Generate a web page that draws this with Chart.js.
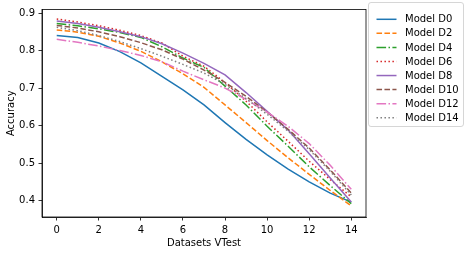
<!DOCTYPE html>
<html>
<head>
<meta charset="utf-8">
<script src="https://cdn.jsdelivr.net/npm/chart.js@4"></script>
<style>
  html, body { margin: 0; padding: 0; background: #fff; }
  #wrap { position: relative; width: 467px; height: 254px; }
</style>
</head>
<body>
<div id="wrap"><canvas id="accChart" width="467" height="254"></canvas></div>
<script>
// values
const xValues = [0, 1, 2, 3, 4, 5, 6, 7, 8, 9, 10, 11, 12, 13, 14];
const xTicks = [0, 2, 4, 6, 8, 10, 12, 14];
const yTicks = [0.4, 0.5, 0.6, 0.7, 0.8, 0.9];

const modelD0  = [0.840, 0.835, 0.820, 0.797, 0.767, 0.731, 0.695, 0.655, 0.608, 0.563, 0.522, 0.484, 0.450, 0.420, 0.396];
const modelD2  = [0.855, 0.849, 0.838, 0.820, 0.798, 0.770, 0.738, 0.702, 0.655, 0.608, 0.560, 0.514, 0.470, 0.427, 0.386];
const modelD4  = [0.872, 0.866, 0.858, 0.848, 0.835, 0.810, 0.780, 0.755, 0.705, 0.655, 0.598, 0.545, 0.490, 0.440, 0.392];
const modelD6  = [0.884, 0.876, 0.866, 0.854, 0.840, 0.820, 0.785, 0.758, 0.715, 0.665, 0.610, 0.558, 0.505, 0.456, 0.410];
const modelD8  = [0.879, 0.872, 0.862, 0.850, 0.837, 0.818, 0.793, 0.766, 0.735, 0.688, 0.638, 0.588, 0.525, 0.460, 0.396];
const modelD10 = [0.867, 0.860, 0.850, 0.837, 0.821, 0.802, 0.777, 0.748, 0.715, 0.678, 0.636, 0.590, 0.540, 0.482, 0.420];
const modelD12 = [0.830, 0.822, 0.812, 0.800, 0.787, 0.770, 0.745, 0.722, 0.700, 0.670, 0.636, 0.598, 0.552, 0.494, 0.430];
const modelD14 = [0.862, 0.853, 0.840, 0.824, 0.805, 0.785, 0.763, 0.740, 0.710, 0.672, 0.630, 0.585, 0.536, 0.478, 0.415];

const seriesNames = ['Model D0', 'Model D2', 'Model D4', 'Model D6', 'Model D8', 'Model D10', 'Model D12', 'Model D14'];
const seriesValues = [modelD0, modelD2, modelD4, modelD6, modelD8, modelD10, modelD12, modelD14];
const seriesColors = ['#1f77b4', '#ff7f0e', '#2ca02c', '#d62728', '#9467bd', '#8c564b', '#e377c2', '#7f7f7f'];

const SOLID = [];
const DASHED = [5.55, 2.4];
const DASHDOT = [9.6, 2.4, 1.5, 2.4];
const DOTTED = [1.5, 2.475];
const seriesDash = [SOLID, DASHED, DASHDOT, DOTTED, SOLID, DASHED, DASHDOT, DOTTED];

const FONT = 'DejaVu Sans';

const datasets = seriesNames.map((name, i) => ({
    label: name,
    data: xValues.map((x, j) => ({x: x, y: seriesValues[i][j]})),
    borderColor: seriesColors[i],
    backgroundColor: seriesColors[i],
    borderWidth: 1.5,
    borderDash: seriesDash[i],
    pointRadius: 0,
    tension: 0,
    fill: false,
    order: seriesNames.length - i
}));

// frame round the plot and the legend box at the right
const framePlugin = {
    id: 'frameAndLegend',
    afterDraw(chart) {
        const ctx = chart.ctx;
        const a = chart.chartArea;
        ctx.save();
        ctx.strokeStyle = '#000';
        ctx.lineWidth = 0.8;
        ctx.setLineDash([]);
        ctx.strokeRect(a.left, a.top, a.right - a.left, a.bottom - a.top);

        // legend
        const lx = 368.5, ly = 2.5, lw = 95, lh = 124, r = 2.5;
        ctx.beginPath();
        ctx.moveTo(lx + r, ly);
        ctx.arcTo(lx + lw, ly, lx + lw, ly + lh, r);
        ctx.arcTo(lx + lw, ly + lh, lx, ly + lh, r);
        ctx.arcTo(lx, ly + lh, lx, ly, r);
        ctx.arcTo(lx, ly, lx + lw, ly, r);
        ctx.closePath();
        ctx.fillStyle = 'rgba(255,255,255,0.8)';
        ctx.fill();
        ctx.strokeStyle = '#cccccc';
        ctx.lineWidth = 0.8;
        ctx.stroke();

        ctx.font = '10px "' + FONT + '"';
        ctx.textBaseline = 'middle';
        ctx.textAlign = 'left';
        seriesNames.forEach((name, i) => {
            const y = 19.3 + i * 14.06;
            ctx.beginPath();
            ctx.setLineDash(seriesDash[i]);
            ctx.strokeStyle = seriesColors[i];
            ctx.lineWidth = 1.5;
            ctx.moveTo(376.5, y);
            ctx.lineTo(396.5, y);
            ctx.stroke();
            ctx.setLineDash([]);
            ctx.fillStyle = '#000';
            ctx.fillText(name, 405, y + 0.5);
        });
        ctx.restore();
    }
};

new Chart(document.getElementById('accChart'), {
    type: 'line',
    data: { datasets: datasets },
    plugins: [framePlugin],
    options: {
        responsive: false,
        animation: false,
        events: [],
        layout: { padding: { left: 0, right: 101, top: 6, bottom: 0 } },
        plugins: {
            legend: { display: false },
            tooltip: { enabled: false }
        },
        scales: {
            x: {
                type: 'linear',
                min: -0.7,
                max: 14.7,
                afterFit(axis) { axis.height = 37; },
                afterBuildTicks(axis) { axis.ticks = xTicks.map(v => ({value: v})); },
                grid: { drawOnChartArea: false, drawTicks: true, tickLength: 3.5, color: '#000', lineWidth: 0.8 },
                border: { display: true, color: '#000', width: 0.8 },
                ticks: {
                    padding: 3.5,
                    color: '#000',
                    maxRotation: 0,
                    font: { family: FONT, size: 10 },
                    callback: v => String(v)
                },
                title: {
                    display: true,
                    text: 'Datasets VTest',
                    color: '#000',
                    font: { family: FONT, size: 10 },
                    padding: { top: 0, bottom: 4.8 }
                }
            },
            y: {
                type: 'linear',
                min: 0.3563,
                max: 0.9094,
                afterFit(axis) { axis.width = 42; },
                afterBuildTicks(axis) { axis.ticks = yTicks.map(v => ({value: v})); },
                grid: { drawOnChartArea: false, drawTicks: true, tickLength: 3.5, color: '#000', lineWidth: 0.8 },
                border: { display: true, color: '#000', width: 0.8 },
                ticks: {
                    padding: 3.5,
                    color: '#000',
                    font: { family: FONT, size: 10 },
                    callback: v => v.toFixed(1)
                },
                title: {
                    display: true,
                    text: 'Accuracy',
                    color: '#000',
                    font: { family: FONT, size: 10 },
                    padding: { top: 5.5, bottom: 0 }
                }
            }
        }
    }
});
</script>
</body>
</html>
